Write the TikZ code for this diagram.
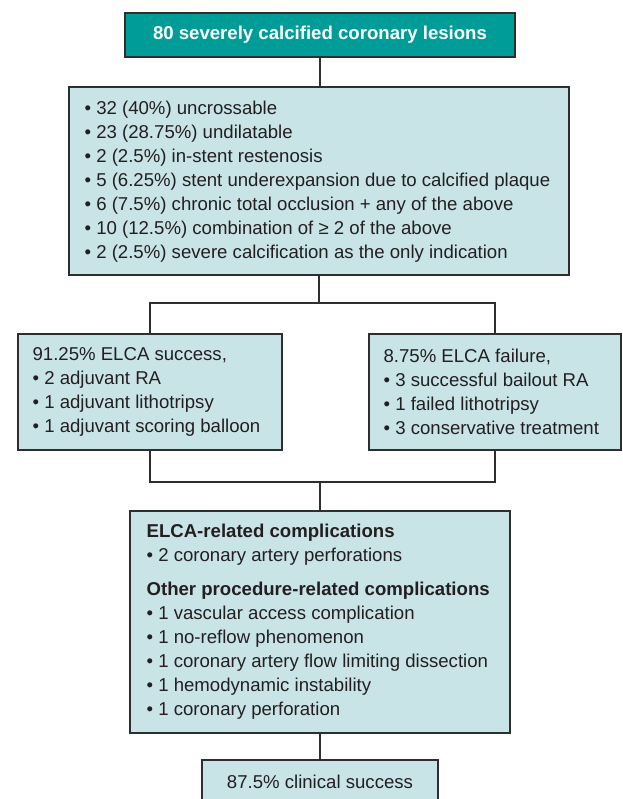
\documentclass[tikz,border=0pt]{standalone}
\usepackage{fontspec}
\setmainfont{Liberation Sans}
\definecolor{tealc}{HTML}{009D98}
\definecolor{lightc}{HTML}{C9E4E7}
\definecolor{linec}{HTML}{2E2E2E}
\definecolor{textc}{HTML}{231F20}
\tikzset{
  boxshape/.style={draw=linec, line width=1.2pt, fill=lightc, rectangle, inner sep=0pt},
  topshape/.style={draw=linec, line width=1.2pt, fill=tealc, rectangle, inner sep=0pt,
    text=white, font=\fontsize{18.6}{24}\selectfont\bfseries},
  txt/.style={inner sep=0pt, align=left, anchor=west, text=textc,
    font=\fontsize{18.6}{24}\selectfont},
  ctxt/.style={inner sep=0pt, align=center, text=textc,
    font=\fontsize{18.6}{24}\selectfont},
  conn/.style={draw=linec, line width=1.2pt}
}
\begin{document}
\begin{tikzpicture}[x=1pt,y=-1pt]
\useasboundingbox (0,0) rectangle (622,799);
\fill[white] (0,0) rectangle (622,799);

% boxes
\node[topshape, minimum width=390pt, minimum height=44pt] (top) at (320,35) {80 severely calcified coronary lesions};
\node[boxshape, minimum width=500pt, minimum height=188pt] (ind) at (319,181) {};
\node[boxshape, minimum width=264pt, minimum height=116pt] (succ) at (150,392) {};
\node[boxshape, minimum width=252pt, minimum height=116pt] (fail) at (495,392) {};
\node[boxshape, minimum width=380pt, minimum height=222pt] (comp) at (320,622) {};
\node[boxshape, minimum width=236pt, minimum height=44pt] (clin) at (320,782) {};

% texts
\node[txt] (indt) at ([xshift=16pt,yshift=-1pt]ind.west) {%
\textbullet\ 32 (40\%) uncrossable\\
\textbullet\ 23 (28.75\%) undilatable\\
\textbullet\ 2 (2.5\%) in-stent restenosis\\
\textbullet\ 5 (6.25\%) stent underexpansion due to calcified plaque\\
\textbullet\ 6 (7.5\%) chronic total occlusion + any of the above\\
\textbullet\ 10 (12.5\%) combination of ≥ 2 of the above\\
\textbullet\ 2 (2.5\%) severe calcification as the only indication};

\node[txt] (succt) at ([xshift=15pt]succ.west) {%
91.25\% ELCA success,\\
\textbullet\ 2 adjuvant RA\\
\textbullet\ 1 adjuvant lithotripsy\\
\textbullet\ 1 adjuvant scoring balloon};

\node[txt] (failt) at ([xshift=15pt]fail.west) {%
8.75\% ELCA failure,\\
\textbullet\ 3 successful bailout RA\\
\textbullet\ 1 failed lithotripsy\\
\textbullet\ 3 conservative treatment};

\node[txt] (compt) at ([xshift=17pt]comp.west) {%
\textbf{ELCA-related complications}\\
\textbullet\ 2 coronary artery perforations\\[10pt]
\textbf{Other procedure-related complications}\\
\textbullet\ 1 vascular access complication\\
\textbullet\ 1 no-reflow phenomenon\\
\textbullet\ 1 coronary artery flow limiting dissection\\
\textbullet\ 1 hemodynamic instability\\
\textbullet\ 1 coronary perforation};

\node[ctxt] (clint) at (clin.center) {87.5\% clinical success};

% connectors
\coordinate (j1) at (319,303);
\coordinate (j2) at (320,482);
\draw[conn] (top.south) -- (top.south |- ind.north);
\draw[conn] (ind.south) -- (j1);
\draw[conn] (succ.north) |- (j1) -| (fail.north);
\draw[conn] (succ.south) |- (j2) -| (fail.south);
\draw[conn] (j2) -- (comp.north);
\draw[conn] (comp.south) -- (clin.north);
\end{tikzpicture}
\end{document}
